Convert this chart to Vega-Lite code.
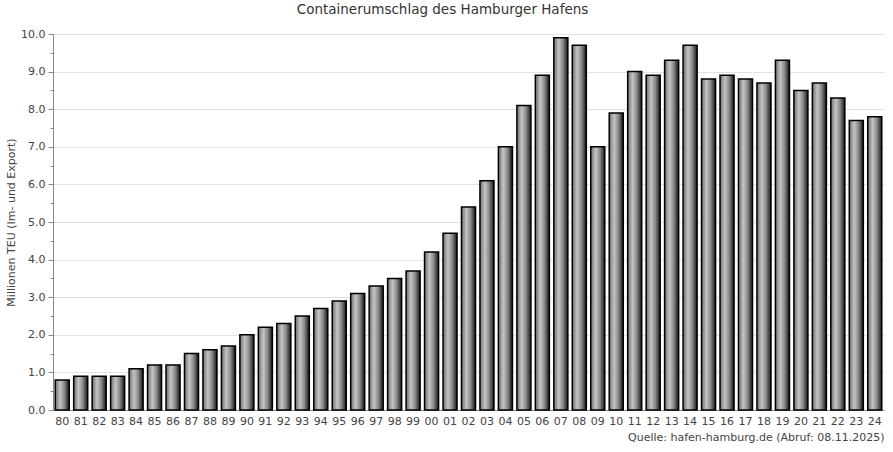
{
  "$schema": "https://vega.github.io/schema/vega-lite/v6.json",
  "width": 831,
  "height": 376,
  "autosize": "none",
  "padding": {"left": 53, "top": 34, "right": 9, "bottom": 42},
  "background": "white",
  "config": {
    "font": "DejaVu Sans",
    "view": {"stroke": null}
  },
  "title": {
    "text": "Containerumschlag des Hamburger Hafens",
    "fontSize": 13.5,
    "fontWeight": "normal",
    "color": "#333333",
    "anchor": "middle",
    "dx": -26,
    "offset": 12
  },
  "data": {
    "values": [
      {"year": "80", "teu": 0.8}, {"year": "81", "teu": 0.9}, {"year": "82", "teu": 0.9},
      {"year": "83", "teu": 0.9}, {"year": "84", "teu": 1.1}, {"year": "85", "teu": 1.2},
      {"year": "86", "teu": 1.2}, {"year": "87", "teu": 1.5}, {"year": "88", "teu": 1.6},
      {"year": "89", "teu": 1.7}, {"year": "90", "teu": 2.0}, {"year": "91", "teu": 2.2},
      {"year": "92", "teu": 2.3}, {"year": "93", "teu": 2.5}, {"year": "94", "teu": 2.7},
      {"year": "95", "teu": 2.9}, {"year": "96", "teu": 3.1}, {"year": "97", "teu": 3.3},
      {"year": "98", "teu": 3.5}, {"year": "99", "teu": 3.7}, {"year": "00", "teu": 4.2},
      {"year": "01", "teu": 4.7}, {"year": "02", "teu": 5.4}, {"year": "03", "teu": 6.1},
      {"year": "04", "teu": 7.0}, {"year": "05", "teu": 8.1}, {"year": "06", "teu": 8.9},
      {"year": "07", "teu": 9.9}, {"year": "08", "teu": 9.7}, {"year": "09", "teu": 7.0},
      {"year": "10", "teu": 7.9}, {"year": "11", "teu": 9.0}, {"year": "12", "teu": 8.9},
      {"year": "13", "teu": 9.3}, {"year": "14", "teu": 9.7}, {"year": "15", "teu": 8.8},
      {"year": "16", "teu": 8.9}, {"year": "17", "teu": 8.8}, {"year": "18", "teu": 8.7},
      {"year": "19", "teu": 9.3}, {"year": "20", "teu": 8.5}, {"year": "21", "teu": 8.7},
      {"year": "22", "teu": 8.3}, {"year": "23", "teu": 7.7}, {"year": "24", "teu": 7.8}
    ]
  },
  "mark": {
    "type": "bar",
    "stroke": "#000000",
    "strokeWidth": 1.5,
    "color": {
      "gradient": "linear",
      "x1": 0, "x2": 1, "y1": 0, "y2": 0,
      "stops": [
        {"offset": 0, "color": "#6e6e6e"},
        {"offset": 0.35, "color": "#c4c4c4"},
        {"offset": 0.65, "color": "#8a8a8a"},
        {"offset": 1, "color": "#151515"}
      ]
    }
  },
  "encoding": {
    "x": {
      "field": "year",
      "type": "ordinal",
      "sort": null,
      "scale": {"paddingInner": 0.24, "paddingOuter": 0.12},
      "axis": {
        "title": "Quelle: hafen-hamburg.de (Abruf: 08.11.2025)",
        "titleAnchor": "end",
        "titleAlign": "right",
        "titleFontSize": 11,
        "titleFontWeight": "normal",
        "titleColor": "#444444",
        "titlePadding": 5,
        "labelAngle": 0,
        "labelFontSize": 11,
        "labelColor": "#444444",
        "labelPadding": 5,
        "ticks": false,
        "domainColor": "#888888",
        "grid": false
      }
    },
    "y": {
      "field": "teu",
      "type": "quantitative",
      "scale": {"domain": [0, 10], "nice": false},
      "axis": {
        "title": "Millionen TEU (Im- und Export)",
        "titleFontSize": 11,
        "titleFontWeight": "normal",
        "titleColor": "#444444",
        "titlePadding": 4,
        "values": [0, 0.5, 1, 1.5, 2, 2.5, 3, 3.5, 4, 4.5, 5, 5.5, 6, 6.5, 7, 7.5, 8, 8.5, 9, 9.5, 10],
        "labelExpr": "datum.value % 1 == 0 ? format(datum.value, '.1f') : ''",
        "labelFontSize": 11,
        "labelColor": "#444444",
        "labelPadding": 3,
        "domainColor": "#888888",
        "tickColor": "#888888",
        "tickSize": {"condition": {"test": "datum.value % 1 == 0", "value": 5}, "value": 3},
        "gridColor": "#e2e2e2",
        "gridOpacity": {"condition": {"test": "datum.value % 1 == 0", "value": 1}, "value": 0}
      }
    }
  }
}
